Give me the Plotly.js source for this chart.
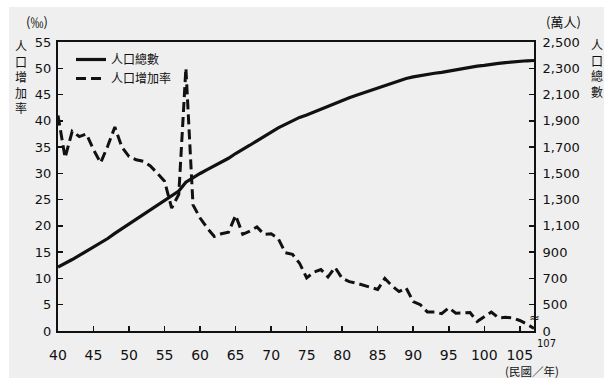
<!DOCTYPE html>
<html>
<head>
<meta charset="utf-8">
<script src="https://cdn.plot.ly/plotly-3.0.1.min.js"></script>
<style>
  html, body { margin: 0; padding: 0; background: #ffffff; width: 604px; height: 378px; overflow: hidden; }
  #chart { position: absolute; left: 9px; top: 7px; width: 595px; height: 371px; }
</style>
</head>
<body>
<div id="chart"></div>
<script>
// 民國年
const years = [];
for (let y = 40; y <= 107; y++) years.push(y);

// 人口總數 (萬人)
const population = [
  787, 813, 844, 875, 908, 939, 969, 1004, 1043, 1079,
  1115, 1151, 1188, 1226, 1263, 1299, 1330, 1365, 1433, 1468,
  1499, 1529, 1556, 1585, 1615, 1651, 1681, 1714, 1748, 1781,
  1814, 1846, 1873, 1901, 1926, 1945, 1967, 1990, 2011, 2035,
  2056, 2075, 2094, 2113, 2130, 2147, 2168, 2187, 2203, 2222,
  2234, 2245, 2253, 2262, 2269, 2279, 2287, 2296, 2312, 2316,
  2322, 2332, 2337, 2343, 2349, 2354, 2357, 2359
];

// 人口增加率 (‰)
const growthRate = [
  41.0, 33.0, 38.0, 37.0, 37.5, 34.5, 32.0, 35.2, 38.8, 35.0,
  33.2, 32.6, 32.3, 31.4, 30.0, 28.5, 23.4, 26.0, 50.0, 24.0,
  21.5, 19.6, 18.0, 18.5, 18.8, 22.0, 18.4, 19.0, 19.8, 18.4,
  18.5, 17.6, 14.9, 14.6, 12.9, 10.1, 11.2, 11.7, 10.3, 12.1,
  10.0, 9.4, 9.1, 8.7, 8.3, 7.9, 10.0, 8.6, 7.5, 8.2,
  5.6, 5.0, 3.6, 3.6, 3.3, 4.4, 3.4, 3.5, 3.5, 1.8,
  2.7, 3.6, 2.5, 2.6, 2.5, 2.0, 1.3, 0.5
];

// tick labels
const xTickVals = [40, 45, 50, 55, 60, 65, 70, 75, 80, 85, 90, 95, 100, 105];
const yLeftTicks = [0, 5, 10, 15, 20, 25, 30, 35, 40, 45, 50, 55];
const yRightTickVals = [300, 500, 700, 900, 1100, 1300, 1500, 1700, 1900, 2100, 2300, 2500];
const yRightTickText = ['0', '500', '700', '900', '1,100', '1,300', '1,500', '1,700', '1,900', '2,100', '2,300', '2,500'];

const leftTitle = '人<br>口<br>增<br>加<br>率';
const rightTitle = '人<br>口<br>總<br>數';

const CJK = '"Noto Sans CJK TC", "Noto Sans CJK SC", sans-serif';
const NUM = '"DejaVu Sans", Arial, sans-serif';

// page-pixel helpers for text placement (plot area: x 58..534, y 42..331)
const PL = 58, PW = 476, PB = 331, PH = 289;
const px = v => (v - PL) / PW;
const py = v => (PB - v) / PH;

const traces = [
  {
    x: years, y: population, yaxis: 'y2', name: '人口總數',
    type: 'scatter', mode: 'lines',
    line: { color: '#111111', width: 3.2 }
  },
  {
    x: years, y: growthRate, yaxis: 'y', name: '人口增加率',
    type: 'scatter', mode: 'lines',
    line: { color: '#111111', width: 3, dash: '10px,5px' }
  }
];

const annotations = [];
function ann(text, x, y, size, extra) {
  annotations.push(Object.assign({
    text: text, xref: 'paper', yref: 'paper', x: px(x), y: py(y),
    xanchor: 'center', yanchor: 'middle', showarrow: false,
    font: { family: CJK, size: size, color: '#111111' }
  }, extra || {}));
}
ann('(‰)', 37, 21, 13);
ann('(萬人)', 563, 21, 13);
ann(leftTitle, 21, 76, 12);
ann(rightTitle, 597, 68, 12);
ann('107', 546, 343, 10, { font: { family: NUM, size: 10, color: '#111111' } });
ann('(民國／年)', 561, 370.5, 11.5, { xanchor: 'right' });
annotations.push({
  text: '≈', xref: 'x', yref: 'y2', x: 107, y: 400, showarrow: false,
  xanchor: 'center', yanchor: 'middle',
  font: { family: NUM, size: 13, color: '#111111' }
});

const layout = {
  width: 595, height: 371,
  margin: { l: 49, r: 70, t: 35, b: 47 },
  paper_bgcolor: '#efefef',
  plot_bgcolor: '#efefef',
  showlegend: true,
  legend: {
    x: px(71), y: py(45), xanchor: 'left', yanchor: 'top',
    bgcolor: 'rgba(0,0,0,0)', borderwidth: 0,
    font: { family: CJK, size: 12, color: '#111111' },
    traceorder: 'normal'
  },
  xaxis: {
    range: [40, 107],
    tickmode: 'array', tickvals: xTickVals,
    ticks: 'inside', ticklen: 5, tickwidth: 1.5, tickcolor: '#111111',
    showline: true, linecolor: '#111111', linewidth: 2, mirror: true,
    showgrid: false, zeroline: false,
    ticklabelstandoff: 10,
    tickfont: { family: NUM, size: 14, color: '#111111' }
  },
  yaxis: {
    range: [0, 55],
    tickmode: 'array', tickvals: yLeftTicks,
    ticks: 'inside', ticklen: 5, tickwidth: 1.5, tickcolor: '#111111',
    showline: true, linecolor: '#111111', linewidth: 2,
    showgrid: false, zeroline: false,
    ticklabelstandoff: 2,
    tickfont: { family: NUM, size: 13, color: '#111111' }
  },
  yaxis2: {
    range: [300, 2500], overlaying: 'y', side: 'right',
    tickmode: 'array', tickvals: yRightTickVals, ticktext: yRightTickText,
    ticks: 'inside', ticklen: 5, tickwidth: 1.5, tickcolor: '#111111',
    showline: true, linecolor: '#111111', linewidth: 2,
    showgrid: false, zeroline: false,
    ticklabelstandoff: 4,
    tickfont: { family: NUM, size: 13, color: '#111111' }
  },
  annotations: annotations
};

Plotly.newPlot('chart', traces, layout, { displayModeBar: false, staticPlot: true });
</script>
</body>
</html>
